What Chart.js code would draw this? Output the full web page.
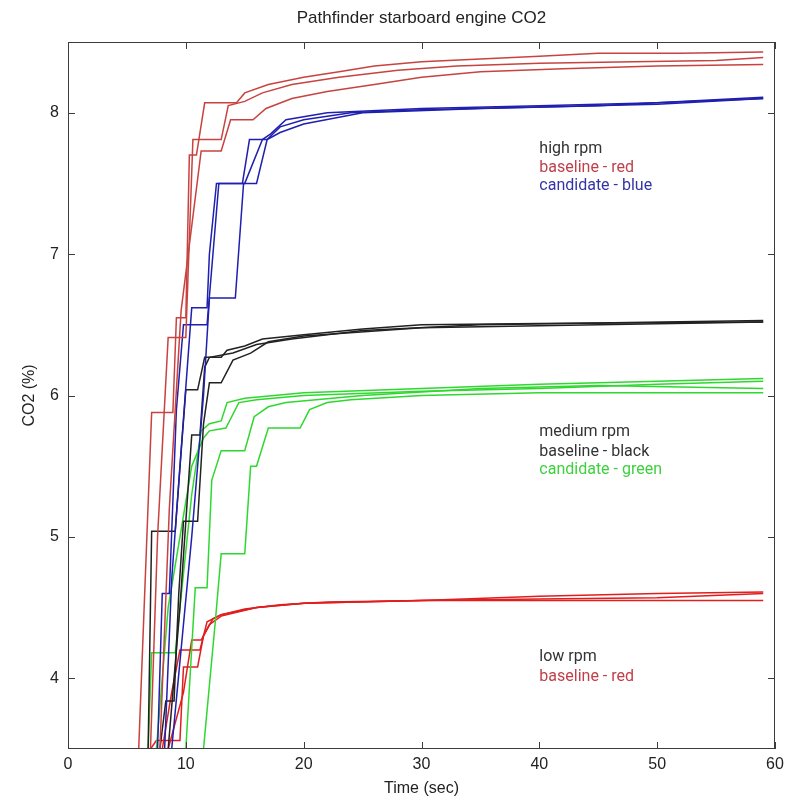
<!DOCTYPE html>
<html lang="en">
<head>
    <meta charset="UTF-8">
    <title>Pathfinder starboard engine CO2</title>
    <script src="https://cdn.jsdelivr.net/npm/chart.js"></script>
    <style>
        body { margin: 0; background: #fff; }
        #wrap { width: 792px; height: 802px; }
    </style>
</head>
<body>
    <div id="wrap"><canvas id="co2-chart" width="792" height="802"></canvas></div>

    <script>
        // axis ticks
        const xTicks = [0, 10, 20, 30, 40, 50, 60];
        const yTicks = [4, 5, 6, 7, 8];

        // each trace is [time (sec), CO2 (%)] samples
        // high rpm, baseline (red)
        const highBase1 = [[6.0,3.5],[7.1,5.88],[8.9,5.88],[9.2,6.55],[10.0,6.55],[10.3,7.70],[10.9,7.70],[11.6,8.07],[14.3,8.07],[15.0,8.14],[17,8.20],[20,8.25],[23,8.29],[26,8.33],[30,8.36],[35,8.38],[40,8.40],[45,8.42],[52,8.42],[59,8.43]];
        const highBase2 = [[7.0,3.5],[7.6,5.0],[8.5,6.41],[10.0,6.41],[10.6,7.81],[13.0,7.81],[13.6,8.05],[15,8.08],[16.5,8.14],[19,8.20],[23,8.25],[28,8.30],[33,8.33],[40,8.35],[48,8.36],[55,8.37],[59,8.39]];
        const highBase3 = [[7.8,3.5],[8.6,5.2],[9.6,6.6],[11.3,7.73],[13.0,7.73],[13.8,7.95],[15.7,7.95],[16.8,8.03],[19,8.10],[22,8.15],[26,8.20],[30,8.25],[35,8.29],[42,8.31],[50,8.33],[59,8.34]];
        // high rpm, candidate (blue)
        const highCand1 = [[7.6,3.5],[8.0,4.6],[8.6,4.6],[9.2,5.9],[9.8,6.5],[11.8,6.5],[12.8,7.5],[14.8,7.5],[15.4,7.81],[16.9,7.81],[18.0,7.90],[20,7.95],[24,8.0],[30,8.02],[40,8.04],[50,8.06],[59,8.10]];
        const highCand2 = [[8.2,3.5],[8.8,4.7],[9.5,5.5],[10.5,6.62],[11.8,6.62],[12.0,7.0],[12.6,7.5],[15.0,7.5],[16.5,7.81],[17.2,7.85],[18.5,7.95],[22,8.0],[30,8.03],[40,8.05],[50,8.07],[59,8.10]];
        const highCand3 = [[8.8,3.5],[10.5,5.0],[11.5,6.0],[12.0,6.69],[14.2,6.69],[14.9,7.5],[16.0,7.5],[16.9,7.81],[18,7.86],[20,7.92],[25,8.0],[35,8.03],[45,8.05],[59,8.11]];
        // medium rpm, baseline (black)
        const medBase1 = [[6.8,3.5],[7.1,5.04],[9.1,5.04],[9.6,5.6],[10.0,6.04],[11.0,6.04],[11.6,6.27],[13.0,6.27],[13.5,6.32],[15,6.35],[16.5,6.40],[20,6.43],[25,6.47],[30,6.50],[40,6.51],[59,6.52]];
        const medBase2 = [[7.8,3.5],[8.3,3.84],[9.0,3.84],[9.4,4.6],[9.8,5.11],[11.0,5.11],[11.5,5.8],[12.0,6.09],[13.0,6.09],[14,6.25],[15.5,6.30],[17,6.38],[20,6.42],[30,6.48],[45,6.50],[59,6.52]];
        const medBase3 = [[8.5,3.5],[9.5,4.5],[10.5,5.72],[11.2,5.72],[11.6,6.2],[12.0,6.27],[14,6.30],[16,6.36],[19,6.40],[25,6.46],[35,6.50],[59,6.53]];
        // medium rpm, candidate (green)
        const medCand1 = [[6.8,3.5],[7.1,4.18],[9.1,4.18],[9.5,4.5],[10.5,5.3],[11.3,5.75],[12.0,5.80],[13.0,5.82],[13.5,5.95],[15,5.98],[20,6.02],[30,6.05],[40,6.08],[50,6.10],[59,6.12]];
        const medCand2 = [[7.5,3.5],[8.5,4.5],[9.7,5.1],[10.5,5.5],[11.5,5.7],[12.0,5.75],[13.4,5.77],[14.5,5.95],[16,5.97],[20,6.0],[30,6.03],[40,6.05],[50,6.08],[59,6.10]];
        const medCand3 = [[10.0,3.5],[10.8,4.64],[11.8,4.64],[12.2,5.4],[13.0,5.61],[15.0,5.61],[15.8,5.85],[17,5.92],[18.5,5.95],[25,6.0],[35,6.05],[45,6.07],[59,6.05]];
        const medCand4 = [[11.5,3.5],[12.5,4.4],[13.0,4.88],[15.0,4.88],[15.5,5.5],[16.0,5.5],[17.0,5.77],[19.7,5.77],[20.5,5.9],[22,5.95],[24,5.97],[30,6.0],[40,6.02],[59,6.02]];
        // low rpm, baseline (red)
        const lowBase1 = [[7.0,3.5],[7.5,3.56],[9.5,3.56],[9.8,4.08],[11.0,4.08],[11.5,4.3],[12.3,4.42],[13.0,4.45],[15,4.49],[18,4.52],[22,4.54],[30,4.55],[40,4.56],[50,4.57],[59,4.60]];
        const lowBase2 = [[8.0,3.5],[8.8,3.9],[9.5,4.2],[11.2,4.2],[11.8,4.4],[13,4.45],[16,4.50],[20,4.53],[30,4.55],[40,4.58],[50,4.60],[59,4.61]];
        const lowBase3 = [[8.5,3.5],[9.8,3.9],[10.5,4.27],[11.3,4.27],[12.0,4.38],[13.0,4.44],[16,4.50],[20,4.53],[30,4.55],[40,4.55],[50,4.55],[59,4.55]];

        const notes = [
            { x: 40, y: 7.74, text: 'high rpm', color: '#333333' },
            { x: 40, y: 7.61, text: 'baseline - red', color: '#c0404a' },
            { x: 40, y: 7.48, text: 'candidate - blue', color: '#3434a8' },
            { x: 40, y: 5.74, text: 'medium rpm', color: '#333333' },
            { x: 40, y: 5.60, text: 'baseline - black', color: '#333333' },
            { x: 40, y: 5.47, text: 'candidate - green', color: '#3fd040' },
            { x: 40, y: 4.15, text: 'low rpm', color: '#333333' },
            { x: 40, y: 4.01, text: 'baseline - red', color: '#c0404a' }
        ];

        const groups = [
            { traces: [highBase1, highBase2, highBase3], color: '#c8433f' },
            { traces: [highCand1, highCand2, highCand3], color: '#1f1fb0' },
            { traces: [medBase1, medBase2, medBase3], color: '#222222' },
            { traces: [medCand1, medCand2, medCand3, medCand4], color: '#2fd82f' },
            { traces: [lowBase1, lowBase2, lowBase3], color: '#e01e1e' }
        ];

        const datasets = [];
        groups.forEach(g => {
            g.traces.forEach(t => {
                datasets.push({
                    data: t.map(p => ({ x: p[0], y: p[1] })),
                    borderColor: g.color,
                    borderWidth: 1.5,
                    pointRadius: 0,
                    tension: 0,
                    fill: false
                });
            });
        });

        const frame = {
            id: 'frame',
            afterDatasetsDraw(chart) {
                const { ctx, chartArea: a, scales } = chart;
                ctx.save();
                ctx.strokeStyle = '#3c3c3c';
                ctx.lineWidth = 1;
                ctx.strokeRect(a.left + 0.5, a.top + 0.5, a.right - a.left - 1, a.bottom - a.top - 1);
                ctx.beginPath();
                xTicks.forEach(v => {
                    const px = Math.round(scales.x.getPixelForValue(v)) + 0.5;
                    ctx.moveTo(px, a.bottom); ctx.lineTo(px, a.bottom - 7);
                    ctx.moveTo(px, a.top); ctx.lineTo(px, a.top + 7);
                });
                yTicks.forEach(v => {
                    const py = Math.round(scales.y.getPixelForValue(v)) + 0.5;
                    ctx.moveTo(a.left, py); ctx.lineTo(a.left + 7, py);
                    ctx.moveTo(a.right, py); ctx.lineTo(a.right - 7, py);
                });
                ctx.stroke();

                // annotations
                ctx.font = '16px Roboto, "Liberation Sans", sans-serif';
                ctx.textBaseline = 'middle';
                ctx.textAlign = 'left';
                notes.forEach(n => {
                    ctx.fillStyle = n.color;
                    ctx.fillText(n.text, scales.x.getPixelForValue(n.x), scales.y.getPixelForValue(n.y));
                });

                // title centred over the plot box
                ctx.fillStyle = '#222';
                ctx.font = '17px "Liberation Sans Narrow", "Liberation Sans", sans-serif';
                ctx.textAlign = 'center';
                ctx.fillText('Pathfinder starboard engine CO2', (a.left + a.right) / 2, 18);
                ctx.restore();
            }
        };

        const tickFont = { family: '"Liberation Sans Narrow", "Liberation Sans", sans-serif', size: 16 };

        new Chart(document.getElementById('co2-chart'), {
            type: 'line',
            data: { datasets },
            plugins: [frame],
            options: {
                responsive: false,
                animation: false,
                layout: { padding: { top: 42, right: 17, left: 0, bottom: 0 } },
                plugins: { legend: { display: false }, tooltip: { enabled: false } },
                scales: {
                    x: {
                        type: 'linear',
                        min: 0, max: 60,
                        afterBuildTicks: s => { s.ticks = xTicks.map(v => ({ value: v })); },
                        afterFit: s => { s.height = 53; },
                        grid: { display: false, drawTicks: false },
                        border: { display: false },
                        ticks: { font: tickFont, color: '#222', padding: 6, maxRotation: 0 },
                        title: { display: true, text: 'Time (sec)', font: tickFont, color: '#222', padding: { top: 0, bottom: 4 } }
                    },
                    y: {
                        min: 3.5, max: 8.5,
                        afterBuildTicks: s => { s.ticks = yTicks.map(v => ({ value: v })); },
                        afterFit: s => { s.width = 68; },
                        grid: { display: false, drawTicks: false },
                        border: { display: false },
                        ticks: { font: tickFont, color: '#222', padding: 9 },
                        title: { display: true, text: 'CO2 (%)', font: tickFont, color: '#222', padding: { top: 20, bottom: 0 } }
                    }
                }
            }
        });
    </script>
</body>
</html>
